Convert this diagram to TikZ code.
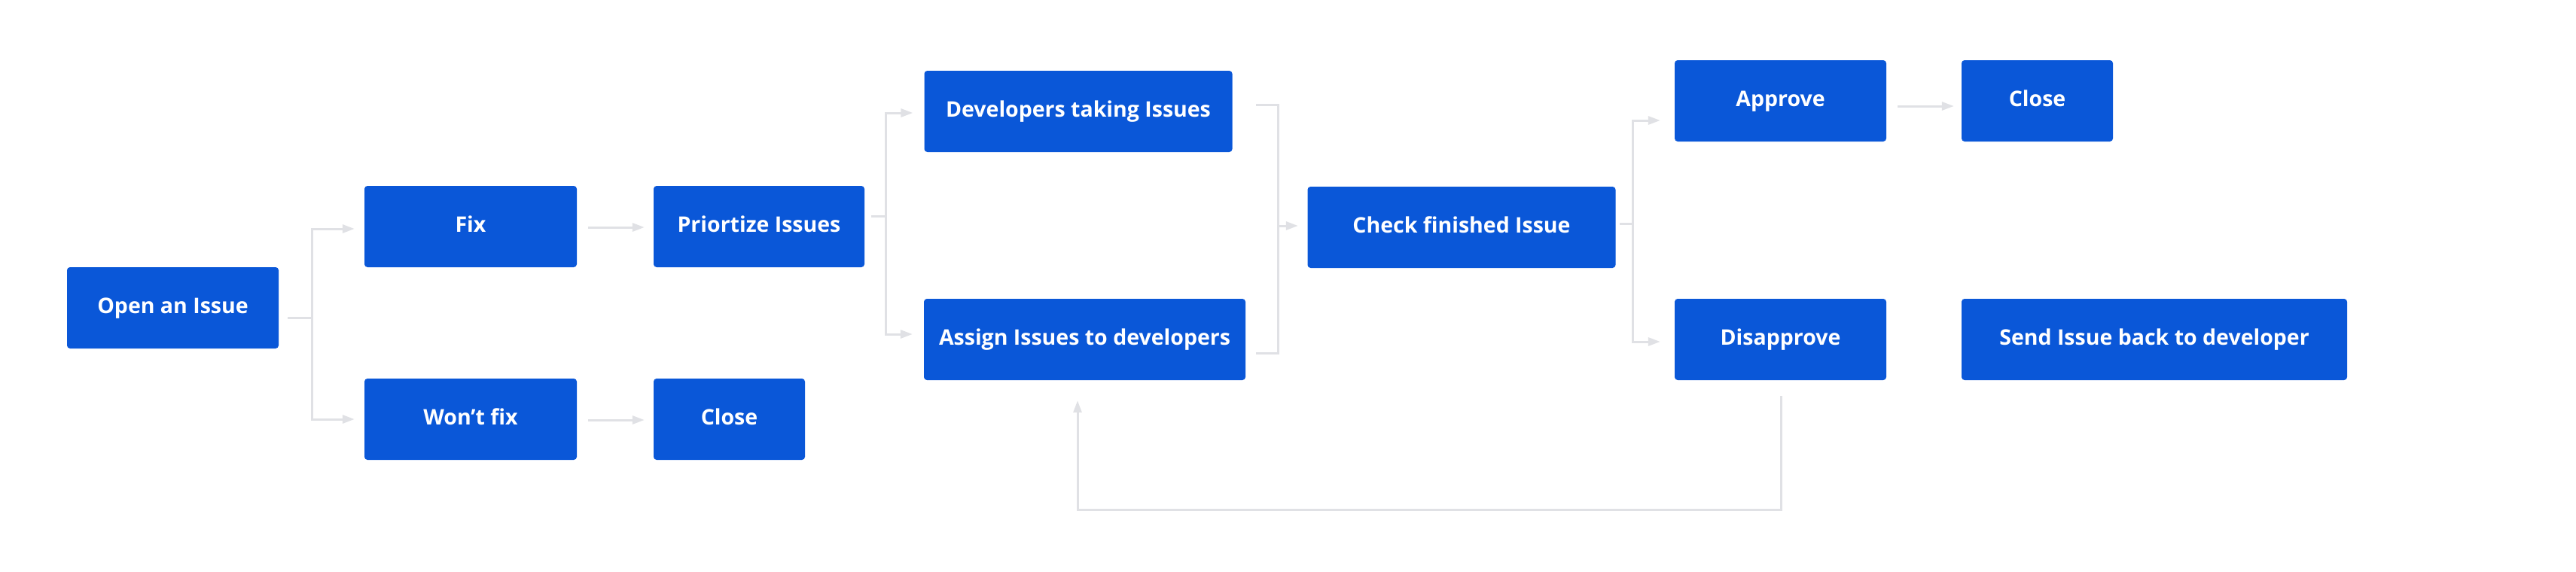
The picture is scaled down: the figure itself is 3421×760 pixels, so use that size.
\documentclass[tikz,border=0pt]{standalone}
\usepackage{fontspec}
\setmainfont{Open Sans}
\usetikzlibrary{arrows.meta,calc}
\definecolor{boxblue}{HTML}{0A57D8}
\definecolor{linegray}{HTML}{E0E1E5}
\tikzset{
  box/.style={fill=boxblue, rounded corners=4pt, inner sep=0pt,
    minimum height=108pt, text=white,
    font=\fontsize{28.5}{34}\selectfont\bfseries,
    text height=21pt, text depth=7pt, anchor=center},
  conn/.style={draw=linegray, line width=3pt},
  arr/.style={conn, -{Triangle[length=16pt,width=11pt]}}
}
\begin{document}
\begin{tikzpicture}[x=1pt,y=-1pt]
\useasboundingbox (0,0) rectangle (3421,760);
\fill[white] (0,0) rectangle (3421,760);
% nodes
\node[box, minimum width=281pt] (open) at (229.5,409) {Open an Issue};
\node[box, minimum width=282pt] (fix) at (625,301) {Fix};
\node[box, minimum width=282pt] (wont) at (625,557) {Won’t fix};
\node[box, minimum width=280pt] (prio) at (1008,301) {Priortize Issues};
\node[box, minimum width=201pt] (close1) at (968.5,557) {Close};
\node[box, minimum width=409pt] (dev) at (1432,148) {Developers taking Issues};
\node[box, minimum width=427pt] (assign) at (1440.5,451) {Assign Issues to developers};
\node[box, minimum width=409pt] (check) at (1941,302) {Check finished Issue};
\node[box, minimum width=281pt] (approve) at (2364.5,134) {Approve};
\node[box, minimum width=201pt] (close2) at (2705.5,134) {Close};
\node[box, minimum width=281pt] (disapprove) at (2364.5,451) {Disapprove};
\node[box, minimum width=512pt] (send) at (2861,451) {Send Issue back to developer};
% open -> fix / wont
\coordinate (j1) at ($(open.east)+(44,13)$);
\draw[conn] ($(open.east)+(12,13)$) -- (j1);
\draw[arr] (j1) |- ($(fix.west)+(-13,3)$);
\draw[arr] (j1) |- ($(wont.west)+(-13,0)$);
% fix -> prio, wont -> close
\draw[arr] ($(fix.east)+(15,1)$) -- ($(prio.west)+(-12,1)$);
\draw[arr] ($(wont.east)+(15,1)$) -- ($(close1.west)+(-12,1)$);
% prio -> dev / assign
\coordinate (j2) at ($(prio.east)+(28,-14)$);
\draw[conn] ($(prio.east)+(9,-14)$) -- (j2);
\draw[arr] (j2) |- ($(dev.west)+(-15,2)$);
\draw[arr] (j2) |- ($(assign.west)+(-15,-7)$);
% dev / assign -> check
\coordinate (j3) at ($(check.west)+(-38.5,-2)$);
\draw[conn] ($(dev.east)+(31.5,-9)$) -| (j3);
\draw[conn] ($(assign.east)+(14,18)$) -| (j3);
\draw[arr] (j3) -- ($(check.west)+(-12.5,-2)$);
% check -> approve / disapprove
\coordinate (j4) at ($(check.east)+(22.5,-4.5)$);
\draw[conn] ($(check.east)+(5,-4.5)$) -- (j4);
\draw[arr] (j4) |- ($(approve.west)+(-19,26)$);
\draw[arr] (j4) |- ($(disapprove.west)+(-19,3)$);
% approve -> close
\draw[arr] ($(approve.east)+(15,7)$) -- ($(close2.west)+(-10,7)$);
% disapprove -> assign (loop back)
\coordinate (lb) at ($(assign.south)+(-9.5,172)$);
\draw[arr] ($(disapprove.south)+(0.5,21)$) |- (lb) -- ($(assign.south)+(-9.5,27)$);
\end{tikzpicture}
\end{document}
